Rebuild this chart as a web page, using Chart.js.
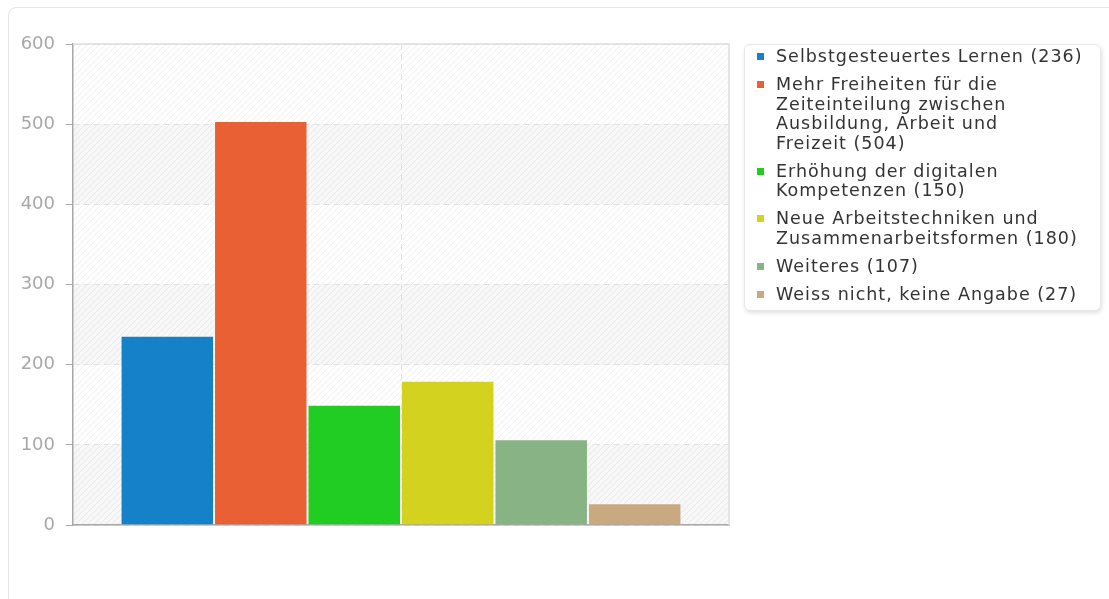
<!DOCTYPE html>
<html>
<head>
<meta charset="utf-8">
<script src="https://cdn.jsdelivr.net/npm/chart.js@4/dist/chart.umd.min.js"></script>
<style>
    body { margin: 0; background: #fff; font-family: 'DejaVu Sans', sans-serif; }
    #card {
        position: absolute; left: 8px; top: 7px; width: 1130px; height: 640px;
        border: 1px solid #e6e6e6; border-radius: 8px;
    }
    #wrap { position: absolute; left: 0; top: 0; width: 740px; height: 560px; }
    #legend {
        position: absolute; left: 744px; top: 44px; width: 357px; height: 267px;
        box-sizing: border-box; border: 1px solid #e8e8e8; border-radius: 6px;
        box-shadow: 1px 2px 4px rgba(0, 0, 0, 0.13); background: #fff;
        padding: 2px 0 0 12px;
        font-family: 'DejaVu Sans'; font-size: 17.5px; letter-spacing: 1px;
        line-height: 19.5px; color: #333;
    }
    .item { display: flex; margin-bottom: 8.5px; }
    .box { flex: none; width: 7px; height: 7px; margin: 6px 12px 0 0; }
    .text { white-space: pre; }
</style>
</head>
<body>
<div id="card"></div>
<div id="wrap"><canvas id="chart"></canvas></div>
<div id="legend"></div>
<script>
const categories = [''];
const seriesLabels = [
    'Selbstgesteuertes Lernen',
    'Mehr Freiheiten für die\nZeiteinteilung zwischen\nAusbildung, Arbeit und\nFreizeit',
    'Erhöhung der digitalen\nKompetenzen',
    'Neue Arbeitstechniken und\nZusammenarbeitsformen',
    'Weiteres',
    'Weiss nicht, keine Angabe'
];
const seriesValues = [236, 504, 150, 180, 107, 27];
const yTicks = [0, 100, 200, 300, 400, 500, 600];

const colors = ['#1481c9', '#e86034', '#21cd23', '#d3d31f', '#88b385', '#c9a97f'];

// hatch pattern for the plot background
function makeHatch() {
    const c = document.createElement('canvas');
    c.width = 6;
    c.height = 6;
    const g = c.getContext('2d');
    g.strokeStyle = 'rgba(0,0,0,0.06)';
    g.lineWidth = 1;
    g.beginPath();
    g.moveTo(0, 6); g.lineTo(6, 0);
    g.moveTo(-1, 1); g.lineTo(1, -1);
    g.moveTo(5, 7); g.lineTo(7, 5);
    g.stroke();
    return c;
}

const plotBackground = {
    id: 'plotBackground',
    beforeDraw(chart) {
        const {ctx, chartArea: a, scales: {y}} = chart;
        ctx.save();
        ctx.fillStyle = '#fff';
        ctx.fillRect(a.left, a.top, a.right - a.left, a.bottom - a.top);
        ctx.fillStyle = '#f7f7f7';
        for (let i = 0; i < yTicks.length - 1; i += 2) {
            const y0 = y.getPixelForValue(yTicks[i]);
            const y1 = y.getPixelForValue(yTicks[i + 1]);
            ctx.fillRect(a.left, y1, a.right - a.left, y0 - y1);
        }
        ctx.fillStyle = ctx.createPattern(makeHatch(), 'repeat');
        ctx.fillRect(a.left, a.top, a.right - a.left, a.bottom - a.top);
        ctx.restore();
    },
    beforeDatasetsDraw(chart) {
        const {ctx, chartArea: a} = chart;
        ctx.save();
        ctx.strokeStyle = '#dedede';
        ctx.lineWidth = 1.5;
        ctx.beginPath();
        ctx.moveTo(a.left, a.top);
        ctx.lineTo(a.right, a.top);
        ctx.lineTo(a.right, a.bottom);
        ctx.stroke();
        ctx.restore();
    }
};

const datasets = seriesLabels.map((label, i) => ({
    label: label,
    data: [seriesValues[i]],
    backgroundColor: colors[i],
    borderColor: 'rgba(255,255,255,0.2)',
    borderWidth: 1,
    categoryPercentage: 0.855,
    barPercentage: 1
}));

new Chart(document.getElementById('chart'), {
    type: 'bar',
    data: {labels: categories, datasets: datasets},
    options: {
        responsive: true,
        maintainAspectRatio: false,
        animation: false,
        layout: {padding: {top: 44, right: 11, bottom: 35, left: 0}},
        plugins: {legend: {display: false}, tooltip: {enabled: false}},
        scales: {
            x: {
                grid: {color: '#e2e2e2', offset: false, drawTicks: false},
                border: {color: '#a8a8a8', width: 1.5, dash: [6, 4]},
                ticks: {display: false},
                afterFit: scale => { scale.height = 0; }
            },
            y: {
                min: 0,
                max: 600,
                afterBuildTicks: scale => { scale.ticks = yTicks.map(v => ({value: v})); },
                grid: {color: '#e2e2e2', tickColor: '#a8a8a8', tickLength: 7, tickBorderDash: []},
                border: {color: '#a8a8a8', width: 1.5, dash: [6, 4]},
                ticks: {
                    color: '#a8a8a8',
                    padding: 11,
                    font: {family: 'DejaVu Sans', size: 18}
                },
                afterFit: scale => { scale.width = 73; }
            }
        }
    },
    plugins: [plotBackground]
});

// legend
const legend = document.getElementById('legend');
seriesLabels.forEach((label, i) => {
    const item = document.createElement('div');
    item.className = 'item';
    const box = document.createElement('span');
    box.className = 'box';
    box.style.background = colors[i];
    const text = document.createElement('span');
    text.className = 'text';
    text.textContent = label + ' (' + seriesValues[i] + ')';
    item.appendChild(box);
    item.appendChild(text);
    legend.appendChild(item);
});
</script>
</body>
</html>
